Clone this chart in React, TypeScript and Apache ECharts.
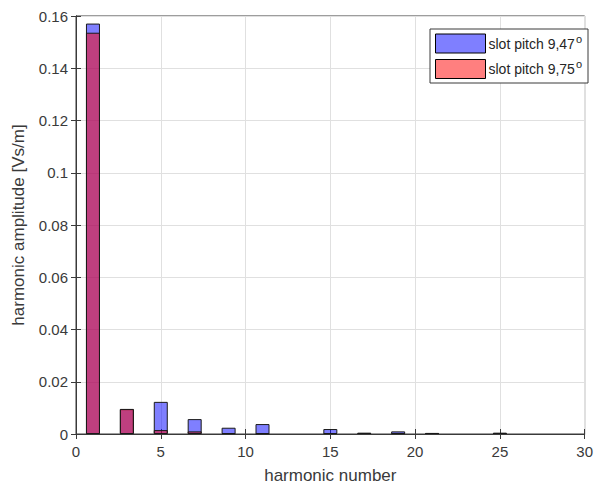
import React, { useEffect, useRef } from "react";
import * as echarts from "echarts";

const harmonics = [1, 3, 5, 7, 9, 11, 13, 15, 17, 19, 21, 23, 25, 27, 29];
const blueValues = [0.1571, 0.0095, 0.0123, 0.0057, 0.0024, 0.0038, 0, 0.0019, 0.0005, 0.001, 0.0004, 0, 0.0004, 0, 0];
const redValues = [0.1536, 0.0096, 0.0015, 0.001, 0.0003, 0.0002, 0, 0.0003, 0.0004, 0.0003, 0.0004, 0, 0.0005, 0, 0];
const seriesNames = ["slot pitch 9,47", "slot pitch 9,75"];
const xTitle = "harmonic number";
const yTitle = "harmonic amplitude [Vs/m]";

const FONT = "Liberation Sans, Arial, Helvetica, sans-serif";

function toPairs(vals: number[]) {
  return harmonics
    .map((h, i) => [h, vals[i]])
    .filter((p) => p[1] > 0);
}

export default function App() {
  const ref = useRef<HTMLDivElement>(null);
  useEffect(() => {
    if (!ref.current) return;
    const chart = echarts.init(ref.current, undefined, { renderer: "svg" });
    const axisColor = "#3a3a3a";
    const gridColor = "#e0e0e0";
    const labelColor = "#3a3a3a";
    chart.setOption({
      animation: false,
      backgroundColor: "#ffffff",
      grid: {
        left: 76,
        right: 11,
        top: 16,
        bottom: 54,
        show: true,
        borderColor: axisColor,
        borderWidth: 1,
      },
      legend: {
        orient: "vertical",
        left: 430,
        top: 29,
        padding: [4, 6, 4, 5],
        itemGap: 5,
        itemWidth: 50,
        itemHeight: 19,
        icon: "rect",
        borderColor: axisColor,
        borderWidth: 1,
        backgroundColor: "#ffffff",
        itemStyle: { borderColor: "#000", borderWidth: 1 },
        data: seriesNames,
        formatter: (name: string) => `{a|${name}}{s|o}`,
        textStyle: {
          padding: [0, 0, 0, -2],
          rich: {
            a: { fontFamily: FONT, fontSize: 14, color: "#262626" },
            s: {
              fontFamily: FONT,
              fontSize: 11,
              color: "#262626",
              padding: [0, 0, 10, 1],
            },
          },
        },
      },
      xAxis: [
        {
          type: "value",
          min: 0,
          max: 30,
          interval: 5,
          name: xTitle,
          nameLocation: "middle",
          nameGap: 33,
          nameTextStyle: { fontFamily: FONT, fontSize: 17, color: labelColor },
          axisLine: { show: true, lineStyle: { color: axisColor } },
          axisTick: { show: true, inside: true, length: 5, lineStyle: { color: axisColor } },
          axisLabel: { fontFamily: FONT, fontSize: 15, color: labelColor, margin: 10 },
          splitLine: { show: true, lineStyle: { color: gridColor } },
        },
        {
          type: "value",
          position: "top",
          min: 0,
          max: 30,
          interval: 5,
          axisLine: { show: true, lineStyle: { color: axisColor } },
          axisTick: { show: true, inside: true, length: 5, lineStyle: { color: axisColor } },
          axisLabel: { show: false },
          splitLine: { show: false },
        },
      ],
      yAxis: [
        {
          type: "value",
          min: 0,
          max: 0.16,
          interval: 0.02,
          name: yTitle,
          nameLocation: "middle",
          nameGap: 49,
          nameTextStyle: { fontFamily: FONT, fontSize: 17, color: labelColor },
          axisLine: { show: true, lineStyle: { color: axisColor } },
          axisTick: { show: true, inside: true, length: 5, lineStyle: { color: axisColor } },
          axisLabel: {
            fontFamily: FONT,
            fontSize: 15,
            color: labelColor,
            margin: 8,
            formatter: (v: number) => String(parseFloat(v.toFixed(2))),
          },
          splitLine: { show: true, lineStyle: { color: gridColor } },
        },
        {
          type: "value",
          position: "right",
          min: 0,
          max: 0.16,
          interval: 0.02,
          axisLine: { show: true, lineStyle: { color: axisColor } },
          axisTick: { show: true, inside: true, length: 5, lineStyle: { color: axisColor } },
          axisLabel: { show: false },
          splitLine: { show: false },
        },
      ],
      series: [
        {
          name: seriesNames[0],
          type: "bar",
          xAxisIndex: 0,
          yAxisIndex: 0,
          barWidth: 14,
          barGap: "-100%",
          data: toPairs(blueValues),
          itemStyle: { color: "rgba(0,0,255,0.5)", borderColor: "#1a1a1a", borderWidth: 1 },
        },
        {
          name: seriesNames[1],
          type: "bar",
          xAxisIndex: 0,
          yAxisIndex: 0,
          barWidth: 14,
          barGap: "-100%",
          data: toPairs(redValues),
          itemStyle: { color: "rgba(255,0,0,0.5)", borderColor: "#1a1a1a", borderWidth: 1 },
        },
      ],
    });
    return () => chart.dispose();
  }, []);
  return (
    <div
      ref={ref}
      style={{ position: "fixed", left: 0, top: 0, width: 596, height: 489 }}
    />
  );
}
